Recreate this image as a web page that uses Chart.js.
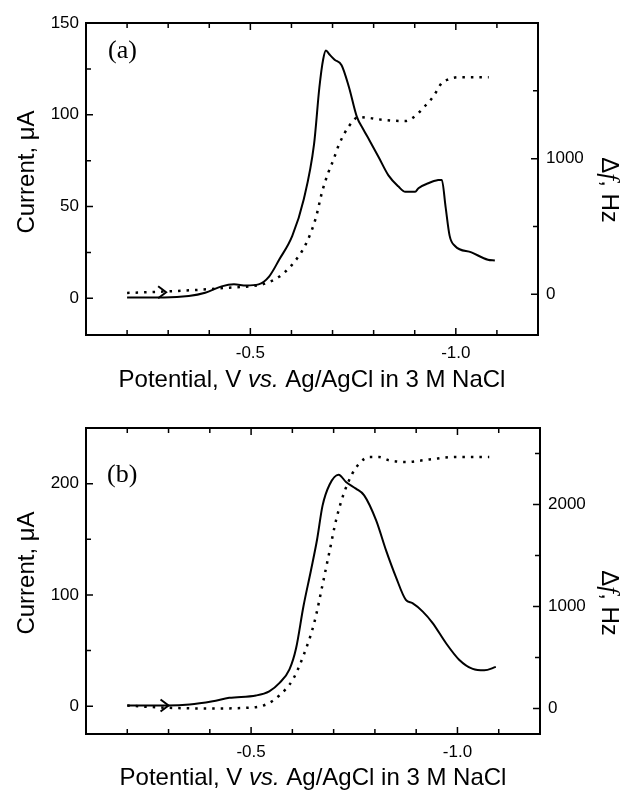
<!DOCTYPE html>
<html>
<head>
<meta charset="utf-8">
<script src="https://cdn.jsdelivr.net/npm/chart.js@4"></script>
<style>
  html, body { margin: 0; padding: 0; background: #fff; }
  canvas { display: block; }
</style>
</head>
<body>
<canvas id="chartA" width="620" height="395"></canvas>
<canvas id="chartB" width="620" height="396"></canvas>
<script>
// x axis: potential (V vs. Ag/AgCl), drawn reversed
const potentialTicks = [-0.2, -0.3, -0.4, -0.5, -0.6, -0.7, -0.8, -0.9, -1.0, -1.1];
const potentialLabels = ['', '', '', '-0.5', '', '', '', '', '-1.0', ''];

// (a) current, solid line
const potA = [-0.2, -0.29, -0.35, -0.39, -0.43, -0.46, -0.49, -0.52, -0.546, -0.57, -0.602, -0.63, -0.655, -0.668, -0.677, -0.684, -0.692, -0.705, -0.722, -0.74, -0.759, -0.775, -0.79, -0.812, -0.836, -0.86, -0.877, -0.901, -0.909, -0.933, -0.957, -0.966, -0.975, -0.985, -0.998, -1.038, -1.078, -1.095];
const curA = [0.5, 0.4, 1.2, 3, 6.5, 7.6, 7, 7.6, 12, 21, 34, 54, 84, 115, 130, 135, 133, 130, 127, 115, 99, 92, 86, 77, 67, 61, 58, 58, 60, 62.7, 64.4, 64.5, 50, 34, 28.5, 25, 21, 20.6];
// (a) frequency change, dotted line
const potFA = [-0.2, -0.287, -0.368, -0.449, -0.505, -0.538, -0.57, -0.602, -0.635, -0.659, -0.675, -0.69, -0.702, -0.716, -0.74, -0.764, -0.79, -0.812, -0.85, -0.877, -0.901, -0.925, -0.946, -0.966, -0.982, -1.006, -1.04, -1.08];
const freqA = [10, 20, 32, 49, 61, 81, 130, 220, 370, 560, 760, 900, 990, 1106, 1240, 1307, 1300, 1290, 1280, 1277, 1314, 1388, 1461, 1559, 1584, 1600, 1600, 1600];

// (b) current, solid line
const potB = [-0.2, -0.298, -0.351, -0.407, -0.447, -0.512, -0.544, -0.569, -0.593, -0.609, -0.627, -0.645, -0.66, -0.673, -0.69, -0.712, -0.73, -0.754, -0.774, -0.803, -0.827, -0.851, -0.875, -0.891, -0.916, -0.94, -0.972, -1.004, -1.037, -1.065, -1.093];
const curB = [0.6, 0.6, 1.5, 4.5, 7.5, 9.6, 13.4, 21, 33, 52, 90, 122, 150, 180, 199, 208, 201.5, 195.5, 189.5, 167, 140, 116, 95.5, 92.6, 85, 74.7, 56.8, 41.8, 33.5, 32.2, 35.3];
// (b) frequency change, dotted line
const potFB = [-0.2, -0.246, -0.298, -0.407, -0.488, -0.536, -0.569, -0.601, -0.627, -0.653, -0.675, -0.69, -0.706, -0.726, -0.745, -0.762, -0.786, -0.81, -0.834, -0.875, -0.932, -0.996, -1.077];
const freqB = [29, 17, 7, 0, 7, 39, 130, 283, 520, 840, 1250, 1540, 1848, 2124, 2300, 2402, 2466, 2466, 2434, 2417, 2441, 2466, 2466];

// axis ticks
const curTicksA = [0, 25, 50, 75, 100, 125, 150];
const curLabelsA = ['0', '', '50', '', '100', '', '150'];
const freqTicksA = [0, 500, 1000, 1500, 2000];
const freqLabelsA = ['0', '', '1000', '', ''];
const curTicksB = [0, 50, 100, 150, 200];
const curLabelsB = ['0', '', '100', '', '200'];
const freqTicksB = [0, 500, 1000, 1500, 2000, 2500];
const freqLabelsB = ['0', '', '1000', '', '2000', ''];

const SANS = '"Liberation Sans", Arial, sans-serif';
const SERIF = '"Liberation Serif", "Times New Roman", serif';

// frame with inward ticks, titles with italic parts, panel letter and sweep arrow
const framePlugin = {
  id: 'frame',
  afterDraw(chart, args, o) {
    const ctx = chart.ctx;
    const a = chart.chartArea;
    const sx = chart.scales.x, sy = chart.scales.y, sy2 = chart.scales.y2;
    ctx.save();
    ctx.strokeStyle = '#000';
    ctx.fillStyle = '#000';

    ctx.lineWidth = 1.5;
    ctx.beginPath();
    sx.ticks.forEach(t => {
      const px = sx.getPixelForValue(t.value);
      const len = t.label ? 7 : 5;
      ctx.moveTo(px, a.bottom); ctx.lineTo(px, a.bottom - len);
      ctx.moveTo(px, a.top); ctx.lineTo(px, a.top + len);
    });
    sy.ticks.forEach(t => {
      const py = sy.getPixelForValue(t.value);
      const len = t.label ? 7 : 5;
      ctx.moveTo(a.left, py); ctx.lineTo(a.left + len, py);
    });
    sy2.ticks.forEach(t => {
      const py = sy2.getPixelForValue(t.value);
      const len = t.label ? 7 : 5;
      ctx.moveTo(a.right, py); ctx.lineTo(a.right - len, py);
    });
    ctx.stroke();

    ctx.lineWidth = 2;
    ctx.strokeRect(a.left, a.top, a.right - a.left, a.bottom - a.top);

    // sweep direction arrow
    const ar = o.arrow;
    const ax = sx.getPixelForValue(ar.x);
    const ay = chart.scales[ar.axis].getPixelForValue(ar.y);
    ctx.lineWidth = 2;
    ctx.beginPath();
    ctx.moveTo(ax - 8, ay - 6);
    ctx.lineTo(ax, ay);
    ctx.lineTo(ax - 8, ay + 6);
    ctx.stroke();

    // panel letter
    ctx.font = '26px ' + SERIF;
    ctx.textAlign = 'left';
    ctx.textBaseline = 'alphabetic';
    ctx.fillText(o.panel, a.left + o.panelDx, a.top + o.panelDy);

    // x title
    drawParts(ctx, [
      { text: 'Potential, V ', font: '24px ' + SANS },
      { text: 'vs.', font: 'italic 24px ' + SANS },
      { text: ' Ag/AgCl in 3 M NaCl', font: '24px ' + SANS }
    ], (a.left + a.right) / 2, o.xTitleY, 0, 'alphabetic');

    // left title
    drawParts(ctx, [{ text: 'Current, \u03bcA', font: '24px ' + SANS }],
      o.yTitleX, o.yTitleY, -Math.PI / 2, 'middle');

    // right title
    drawParts(ctx, [
      { text: '\u0394', font: '24px ' + SANS },
      { text: 'f', font: 'italic 25px ' + SERIF },
      { text: ', Hz', font: '24px ' + SANS }
    ], o.y2TitleX, o.y2TitleY, Math.PI / 2, 'middle');

    ctx.restore();
  }
};

function drawParts(ctx, parts, x, y, rot, baseline) {
  let total = 0;
  parts.forEach(p => { ctx.font = p.font; p.w = ctx.measureText(p.text).width; total += p.w; });
  ctx.save();
  ctx.translate(x, y);
  ctx.rotate(rot);
  ctx.textAlign = 'left';
  ctx.textBaseline = baseline;
  let cx = -total / 2;
  parts.forEach(p => { ctx.font = p.font; ctx.fillText(p.text, cx, 0); cx += p.w; });
  ctx.restore();
}

function makeChart(id, c) {
  const tickFont = { family: SANS, size: 17 };
  return new Chart(document.getElementById(id), {
    type: 'line',
    data: {
      datasets: [
        {
          data: c.pot.map((x, i) => ({ x: x, y: c.cur[i] })),
          yAxisID: 'y',
          borderColor: '#000',
          borderWidth: 2,
          pointRadius: 0,
          cubicInterpolationMode: 'monotone'
        },
        {
          data: c.potF.map((x, i) => ({ x: x, y: c.freq[i] })),
          yAxisID: 'y2',
          borderColor: '#000',
          borderWidth: 2.5,
          borderDash: [2.5, 6],
          pointRadius: 0,
          cubicInterpolationMode: 'monotone'
        }
      ]
    },
    options: {
      responsive: false,
      animation: false,
      devicePixelRatio: 1,
      layout: { padding: { top: c.top, left: 0, right: 0, bottom: 0 } },
      plugins: {
        legend: { display: false },
        tooltip: { enabled: false },
        frame: c.frame
      },
      scales: {
        x: {
          type: 'linear',
          reverse: true,
          min: -1.2,
          max: -0.1,
          afterBuildTicks: s => { s.ticks = potentialTicks.map(v => ({ value: v })); },
          afterFit: s => { s.height = c.xh; },
          ticks: {
            autoSkip: false, maxRotation: 0, padding: 8, color: '#000', font: tickFont,
            callback: (v, i) => potentialLabels[i]
          },
          grid: { display: false, drawTicks: false },
          border: { display: false }
        },
        y: {
          type: 'linear',
          position: 'left',
          min: c.yMin,
          max: c.yMax,
          afterBuildTicks: s => { s.ticks = c.curTicks.map(v => ({ value: v })); },
          afterFit: s => { s.width = c.lw; },
          ticks: {
            autoSkip: false, padding: 7, color: '#000', font: tickFont,
            callback: (v, i) => c.curLabels[i]
          },
          grid: { display: false, drawTicks: false },
          border: { display: false }
        },
        y2: {
          type: 'linear',
          position: 'right',
          min: c.y2Min,
          max: c.y2Max,
          afterBuildTicks: s => { s.ticks = c.freqTicks.map(v => ({ value: v })); },
          afterFit: s => { s.width = c.rw; },
          ticks: {
            autoSkip: false, padding: 8, color: '#000', font: tickFont,
            callback: (v, i) => c.freqLabels[i]
          },
          grid: { display: false, drawTicks: false },
          border: { display: false }
        }
      }
    },
    plugins: [framePlugin]
  });
}

makeChart('chartA', {
  pot: potA, cur: curA, potF: potFA, freq: freqA,
  curTicks: curTicksA, curLabels: curLabelsA, freqTicks: freqTicksA, freqLabels: freqLabelsA,
  yMin: -20, yMax: 150, y2Min: -300, y2Max: 2000,
  top: 23, xh: 60, lw: 86, rw: 82,
  frame: {
    panel: '(a)', panelDx: 22, panelDy: 35,
    arrow: { axis: 'y2', x: -0.295, y: 15 },
    xTitleY: 387, yTitleX: 27, yTitleY: 172, y2TitleX: 609, y2TitleY: 190
  }
});

makeChart('chartB', {
  pot: potB, cur: curB, potF: potFB, freq: freqB,
  curTicks: curTicksB, curLabels: curLabelsB, freqTicks: freqTicksB, freqLabels: freqLabelsB,
  yMin: -25, yMax: 250, y2Min: -250, y2Max: 2750,
  top: 33, xh: 57, lw: 86, rw: 80,
  frame: {
    panel: '(b)', panelDx: 21, panelDy: 54,
    arrow: { axis: 'y', x: -0.3, y: 0.6 },
    xTitleY: 390, yTitleX: 27, yTitleY: 178, y2TitleX: 609, y2TitleY: 208
  }
});
</script>
</body>
</html>
